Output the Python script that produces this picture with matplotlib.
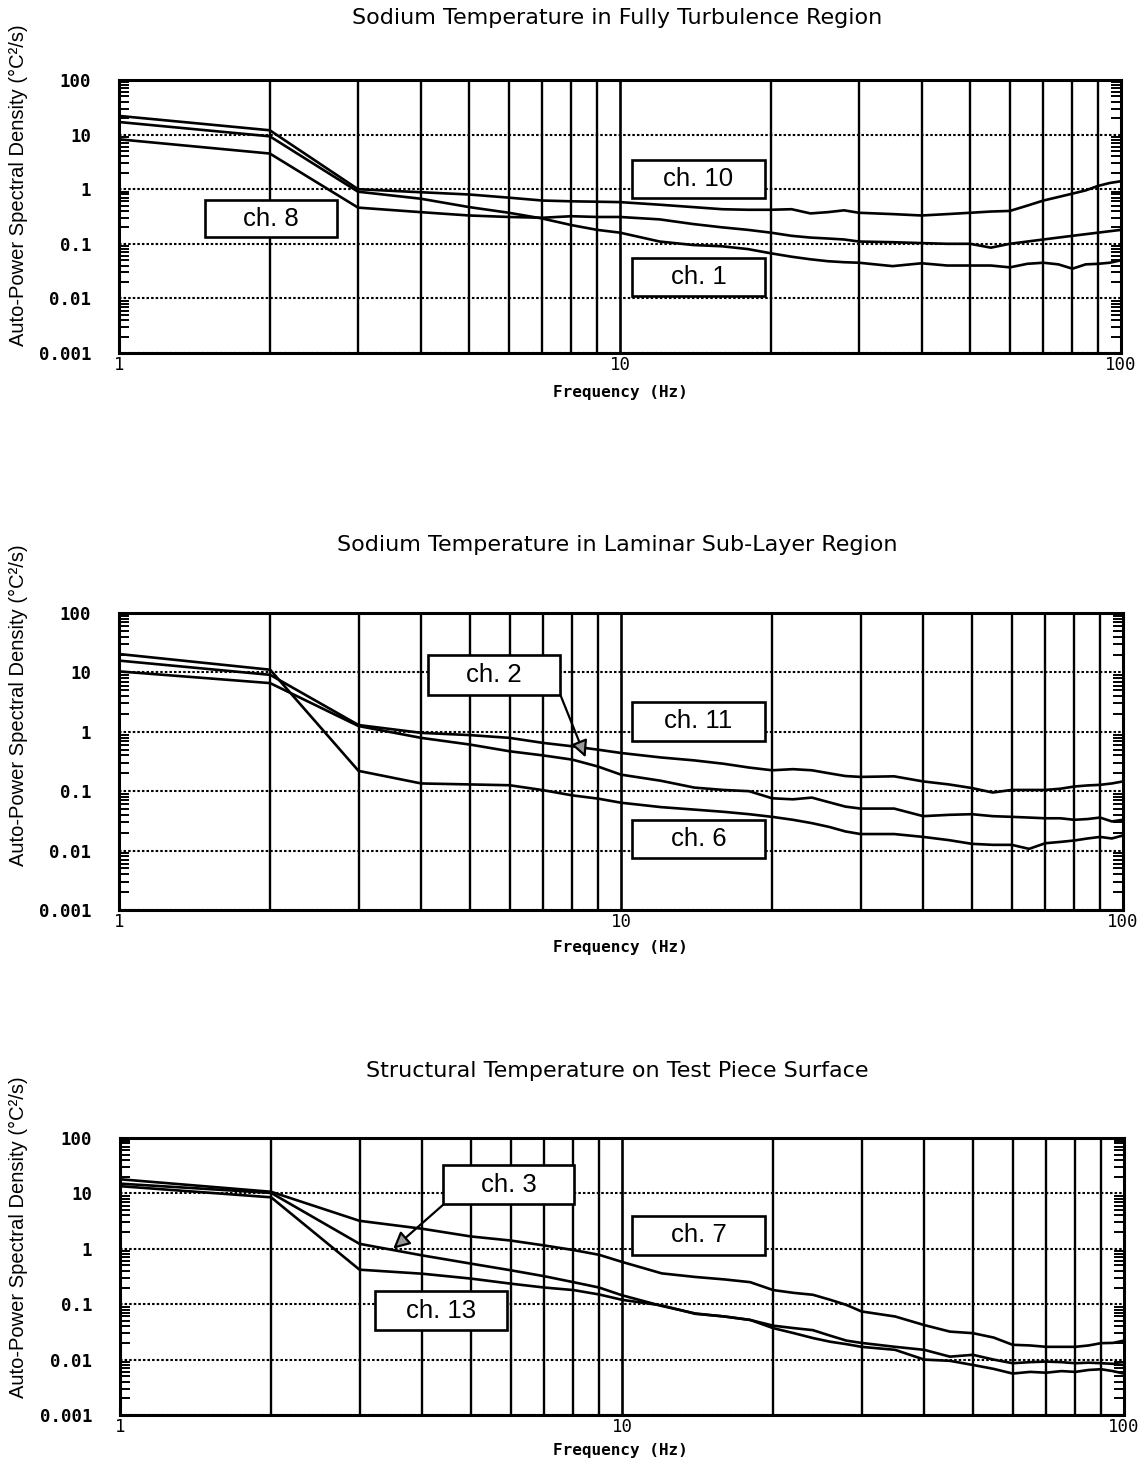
import numpy as np
import matplotlib
matplotlib.use("Agg")
import matplotlib.pyplot as plt
from matplotlib.patches import Rectangle
from matplotlib.ticker import LogLocator, NullFormatter, FixedLocator

# ---------------- data ----------------
freq = [1, 2, 3, 4, 5, 6, 7, 8, 9, 10, 12, 14, 16, 18, 20, 22, 24, 26, 28, 30,
        35, 40, 45, 50, 55, 60, 65, 70, 75, 80, 85, 90, 95, 100]

# Panel 1: Sodium Temperature in Fully Turbulence Region
p1_ch10 = [22, 12, 1.0, 0.88, 0.8, 0.7, 0.62, 0.6, 0.59, 0.58, 0.52, 0.47, 0.43, 0.42,
           0.42, 0.43, 0.36, 0.38, 0.41, 0.37, 0.35, 0.33, 0.35, 0.37, 0.39, 0.40, 0.5,
           0.62, 0.72, 0.83, 0.95, 1.15, 1.3, 1.4]
p1_ch1 = [17, 9.3, 0.9, 0.67, 0.47, 0.37, 0.29, 0.22, 0.18, 0.16, 0.11, 0.095, 0.09,
          0.08, 0.067, 0.058, 0.052, 0.048, 0.046, 0.045, 0.039, 0.044, 0.04, 0.04, 0.04,
          0.037, 0.043, 0.045, 0.042, 0.035, 0.042, 0.043, 0.045, 0.05]
p1_ch8 = [8.2, 4.5, 0.46, 0.38, 0.33, 0.31, 0.30, 0.32, 0.31, 0.31, 0.28, 0.23, 0.2,
          0.18, 0.16, 0.14, 0.13, 0.125, 0.12, 0.11, 0.107, 0.103, 0.1, 0.1, 0.085, 0.1,
          0.11, 0.12, 0.13, 0.14, 0.15, 0.16, 0.17, 0.18]

# Panel 2: Sodium Temperature in Laminar Sub-Layer Region
p2_ch11 = [15.8, 9.1, 1.3, 0.96, 0.88, 0.79, 0.65, 0.57, 0.5, 0.44, 0.37, 0.33, 0.29,
           0.25, 0.225, 0.235, 0.225, 0.2, 0.18, 0.174, 0.178, 0.146, 0.13, 0.113, 0.095,
           0.105, 0.105, 0.105, 0.11, 0.12, 0.125, 0.128, 0.135, 0.146]
p2_ch2 = [10.4, 6.6, 1.25, 0.79, 0.61, 0.47, 0.4, 0.34, 0.26, 0.19, 0.15, 0.115, 0.105,
          0.1, 0.076, 0.073, 0.078, 0.065, 0.055, 0.051, 0.051, 0.038, 0.04, 0.041, 0.038,
          0.037, 0.036, 0.035, 0.035, 0.033, 0.034, 0.036, 0.031, 0.033]
p2_ch6 = [20.4, 11.1, 0.22, 0.135, 0.13, 0.126, 0.104, 0.085, 0.075, 0.064, 0.054, 0.049,
          0.045, 0.041, 0.037, 0.033, 0.029, 0.025, 0.021, 0.019, 0.019, 0.017, 0.015,
          0.013, 0.0125, 0.0125, 0.0107, 0.0133, 0.014, 0.0148, 0.016, 0.017, 0.016, 0.018]

# Panel 3: Structural Temperature on Test Piece Surface
p3_ch7 = [18, 10.7, 3.2, 2.3, 1.67, 1.41, 1.15, 0.95, 0.78, 0.58, 0.36, 0.31, 0.28, 0.25,
          0.18, 0.16, 0.148, 0.12, 0.097, 0.074, 0.06, 0.042, 0.032, 0.03, 0.025, 0.0185,
          0.018, 0.017, 0.017, 0.017, 0.018, 0.0198, 0.02, 0.022]
p3_ch3 = [15, 10.2, 1.23, 0.76, 0.54, 0.41, 0.32, 0.25, 0.2, 0.145, 0.093, 0.068, 0.06,
          0.052, 0.037, 0.03, 0.0245, 0.021, 0.019, 0.017, 0.015, 0.01, 0.0095, 0.008,
          0.0068, 0.0056, 0.006, 0.0058, 0.0062, 0.006, 0.0065, 0.0067, 0.0062, 0.0056]
p3_ch13 = [13.5, 8.5, 0.42, 0.355, 0.29, 0.235, 0.2, 0.18, 0.15, 0.12, 0.095, 0.067, 0.06,
           0.052, 0.041, 0.037, 0.034, 0.027, 0.022, 0.02, 0.017, 0.015, 0.0113, 0.0122,
           0.01, 0.0086, 0.009, 0.0092, 0.009, 0.0086, 0.0088, 0.0086, 0.0084, 0.008]

titles = ["Sodium Temperature in Fully Turbulence Region",
          "Sodium Temperature in Laminar Sub-Layer Region",
          "Structural Temperature on Test Piece Surface"]
panel_series = [[p1_ch10, p1_ch1, p1_ch8],
                [p2_ch11, p2_ch2, p2_ch6],
                [p3_ch7, p3_ch3, p3_ch13]]
ytick_vals = [0.001, 0.01, 0.1, 1, 10, 100]
ytick_labels = ["0.001", "0.01", "0.1", "1", "10", "100"]
xtick_vals = [1, 10, 100]
xtick_labels = ["1", "10", "100"]
ylabel = "Auto-Power Spectral Density (\u00b0C\u00b2/s)"
xlabel = "Frequency (Hz)"

# ---------------- layout ----------------
W, H = 1145, 1465
fig = plt.figure(figsize=(W / 100, H / 100), dpi=100)

def fx(px):
    return px / W

def fy(py):
    return 1 - py / H

# axes boxes in pixels: left, right, top, bottom
ax_px = [(119, 1121, 80, 353), (119, 1123, 613, 910), (120, 1124, 1138, 1415)]
title_y = [18, 545, 1071]
ylabel_y = [185, 705, 1237]
xlabel_y = [392, 948, 1450]

mono = "DejaVu Sans Mono"
axes = []
for i, (l, r, t, b) in enumerate(ax_px):
    ax = fig.add_axes([fx(l), fy(b), fx(r) - fx(l), fy(t) - fy(b)])
    axes.append(ax)
    ax.set_xscale("log")
    ax.set_yscale("log")
    for s in panel_series[i]:
        ax.plot(freq, s, color="black", lw=1.9, zorder=3)
    ax.set_xlim(1, 100)
    ax.set_ylim(0.001, 100)

    # vertical grid (solid) at 2..9, 10, 20..90
    ax.xaxis.set_major_locator(FixedLocator(xtick_vals))
    ax.xaxis.set_minor_locator(LogLocator(base=10, subs=np.arange(2, 10), numticks=20))
    ax.xaxis.set_minor_formatter(NullFormatter())
    ax.set_xticks(xtick_vals, xtick_labels)
    ax.grid(True, which="major", axis="x", color="black", lw=1.9, ls="-", zorder=1)
    ax.grid(True, which="minor", axis="x", color="black", lw=1.7, ls="-", zorder=1)
    ax.tick_params(axis="x", which="both", length=0, pad=2)
    for lab in ax.get_xticklabels():
        lab.set_fontfamily(mono)
        lab.set_fontsize(12.5)

    # horizontal grid (dotted) at decades
    ax.set_yticks(ytick_vals, ytick_labels)
    ax.yaxis.set_minor_locator(LogLocator(base=10, subs=np.arange(2, 10), numticks=20))
    ax.yaxis.set_minor_formatter(NullFormatter())
    ax.grid(True, which="major", axis="y", color="black", lw=1.5, ls=(0, (1.2, 1.0)), zorder=1)
    ax.tick_params(axis="y", which="major", length=0, pad=20)
    ax.tick_params(axis="y", which="minor", direction="in", length=7, width=1.4,
                   left=True, right=True, color="black")
    for lab in ax.get_yticklabels():
        lab.set_fontfamily(mono)
        lab.set_fontweight("bold")
        lab.set_fontsize(12.5)

    for sp in ax.spines.values():
        sp.set_linewidth(2.2)
        sp.set_color("black")
        sp.set_zorder(4)

    fig.text(fx(617), fy(title_y[i]), titles[i], ha="center", va="center",
             fontsize=16, family="DejaVu Sans")
    fig.text(fx(18), fy(ylabel_y[i]), ylabel, ha="center", va="center", rotation=90,
             fontsize=14.5, family="Liberation Sans")
    fig.text(fx(620), fy(xlabel_y[i]), xlabel, ha="center", va="center",
             fontsize=11.5, family=mono, fontweight="bold")

# ---------------- channel label boxes ----------------
boxes = [  # (text, x0, x1, y0, y1) in pixels
    ("ch. 8", 205, 337, 200, 237),
    ("ch. 10", 632, 765, 160, 198),
    ("ch. 1", 632, 765, 258, 296),
    ("ch. 2", 428, 560, 655, 695),
    ("ch. 11", 632, 765, 702, 741),
    ("ch. 6", 632, 765, 820, 858),
    ("ch. 3", 443, 574, 1165, 1204),
    ("ch. 7", 632, 765, 1216, 1255),
    ("ch. 13", 375, 507, 1291, 1330),
]
for txt, x0, x1, y0, y1 in boxes:
    rect = Rectangle((fx(x0), fy(y1)), fx(x1) - fx(x0), fy(y0) - fy(y1),
                     transform=fig.transFigure, facecolor="white", edgecolor="black",
                     lw=1.9, zorder=10)
    fig.add_artist(rect)
    fig.text(fx((x0 + x1) / 2), fy((y0 + y1) / 2), txt, ha="center", va="center",
             fontsize=18.5, family="Liberation Sans", zorder=11)

# ---------------- arrows ----------------
arrow_kw = dict(arrowstyle="-|>,head_length=1.0,head_width=0.5", fc="0.6", ec="black",
                lw=1.6, shrinkA=0, shrinkB=0)
axes[1].annotate("", xy=(8.5, 0.37), xycoords="data",
                 xytext=(fx(560), fy(694)), textcoords="figure fraction",
                 arrowprops=arrow_kw, zorder=9)
axes[2].annotate("", xy=(3.5, 1.0), xycoords="data",
                 xytext=(fx(444), fy(1204)), textcoords="figure fraction",
                 arrowprops=arrow_kw, zorder=9)

fig.savefig("out.png", dpi=100, facecolor="white")
